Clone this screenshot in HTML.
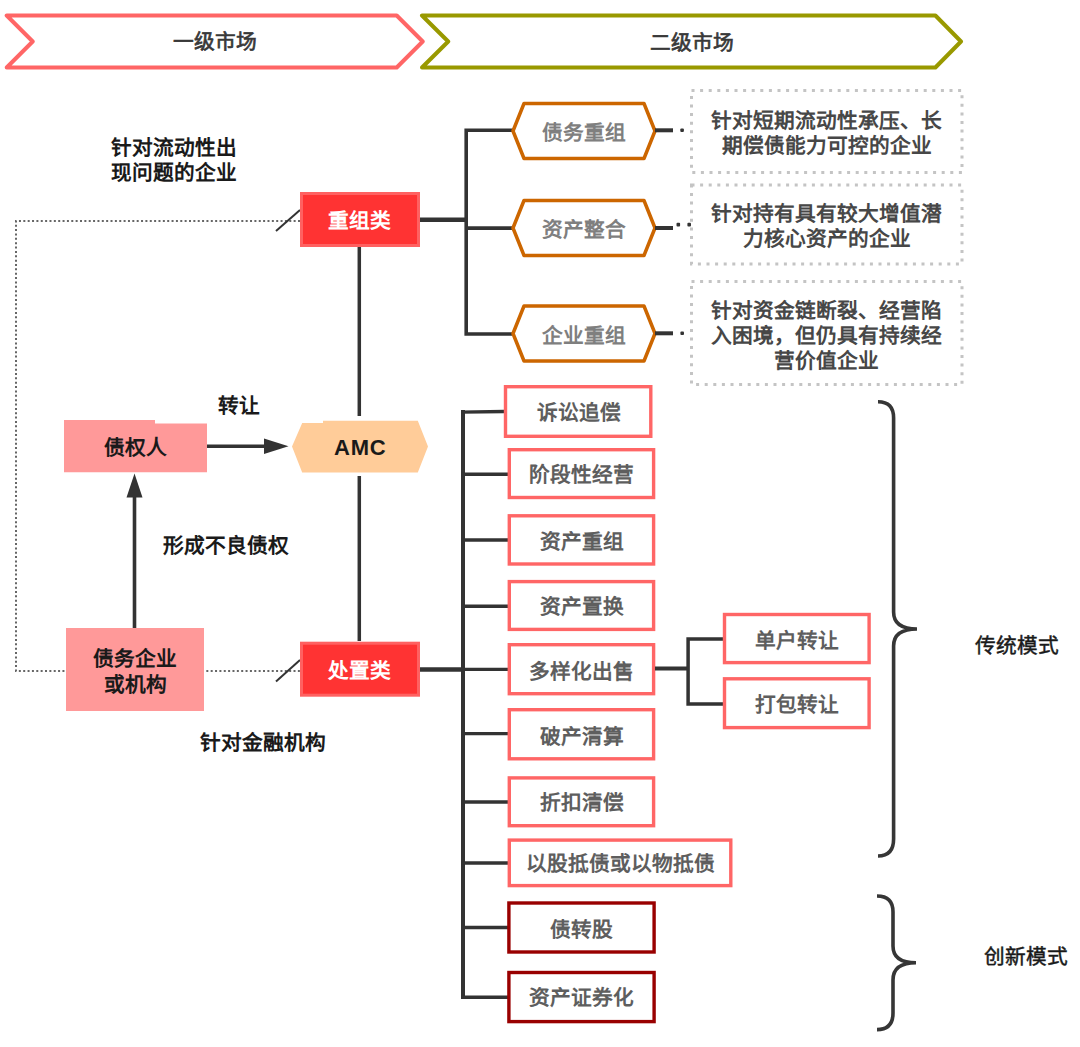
<!DOCTYPE html>
<html lang="zh-CN">
<head>
<meta charset="utf-8">
<style>
html,body{margin:0;padding:0;background:#fff;}
body{width:1080px;height:1047px;position:relative;overflow:hidden;font-family:"Liberation Sans",sans-serif;}
svg{position:absolute;left:0;top:0;}
.t{position:absolute;transform:translate(-50%,-50%);white-space:nowrap;font-weight:700;font-size:20.7px;line-height:26px;text-align:center;margin-top:1px;}
.m{font-weight:400;-webkit-text-stroke:0.45px currentColor;}
.k{color:#1a1a1a;}
.g{color:#5e5e5e;}
.h{color:#7f7f7f;}
.d{color:#474747;}
.w{color:#fff;}
</style>
</head>
<body>
<svg width="1080" height="1047" viewBox="0 0 1080 1047">
  <!-- banners -->
  <polygon points="6.7,15.5 396.7,15.5 422.7,41.5 396.7,67.5 6.7,67.5 32.7,41.5" fill="none" stroke="#FF6666" stroke-width="4" stroke-linejoin="round"/>
  <polygon points="422,15.5 935.4,15.5 961,41.5 935.4,67.5 422,67.5 448.2,41.5" fill="none" stroke="#999900" stroke-width="4" stroke-linejoin="round"/>

  <!-- dotted left loop -->
  <polyline points="300,221 16,221 16,671 300,671" fill="none" stroke="#666" stroke-width="2" stroke-dasharray="2 2.36"/>
  <line x1="276" y1="231" x2="300" y2="210" stroke="#333" stroke-width="2"/>
  <line x1="276" y1="681.5" x2="300" y2="660" stroke="#333" stroke-width="2"/>

  <!-- AMC vertical -->
  <line x1="359.3" y1="247" x2="359.3" y2="416" stroke="#333" stroke-width="3.5"/>
  <line x1="359.3" y1="476" x2="359.3" y2="641" stroke="#333" stroke-width="3.5"/>

  <!-- top tree -->
  <line x1="420" y1="219.7" x2="467" y2="219.7" stroke="#333" stroke-width="4.5"/>
  <polyline points="513,130.3 466.2,130.3 466.2,334 513,334" fill="none" stroke="#333" stroke-width="3.6"/>
  <line x1="466" y1="228.1" x2="513" y2="228.1" stroke="#333" stroke-width="3.6"/>

  <g fill="#fff" stroke="#CC6600" stroke-width="3.5" stroke-linejoin="round">
    <polygon points="513,131 524,103.5 644,103.5 655,131 644,158.5 524,158.5"/>
    <polygon points="513,228 524,200.5 644,200.5 655,228 644,255.5 524,255.5"/>
    <polygon points="513,333.5 524,306 644,306 655,333.5 644,361 524,361"/>
  </g>
  <g stroke="#333" stroke-width="4">
    <line x1="655" y1="130.3" x2="673" y2="130.3"/>
    <line x1="655" y1="228" x2="673" y2="228"/>
    <line x1="655" y1="333.3" x2="673" y2="333.3"/>
  </g>
  <g fill="#333">
    <rect x="680.3" y="128.5" width="3.6" height="3.6" rx="1"/>
    <rect x="676.5" y="222.8" width="3.6" height="3.6" rx="1"/>
    <rect x="687.4" y="222.8" width="3.6" height="3.6" rx="1"/>
    <rect x="680.4" y="331.5" width="3.6" height="3.6" rx="1"/>
  </g>

  <!-- dotted boxes -->
  <g fill="none" stroke="#c4c4c4" stroke-width="3" stroke-dasharray="3 5.6">
    <rect x="691.5" y="90.5" width="270.5" height="82"/>
    <rect x="691.5" y="185" width="270.5" height="79"/>
    <rect x="691.5" y="281.5" width="270.5" height="103"/>
  </g>

  <!-- red category boxes -->
  <rect x="301.5" y="193.5" width="117" height="52" fill="#FF3333" stroke="#FF6161" stroke-width="3"/>
  <rect x="301.5" y="643.2" width="117" height="52" fill="#FF3333" stroke="#FF6161" stroke-width="3"/>

  <!-- creditor boxes -->
  <path d="M64,420 H155 V423.4 H207 V472.2 H64 Z" fill="#FF9999"/>
  <rect x="66" y="628" width="138" height="83" fill="#FF9999"/>

  <!-- arrows -->
  <line x1="207" y1="446.2" x2="266" y2="446.2" stroke="#333" stroke-width="3.6"/>
  <polygon points="264,438.4 288.5,446.2 264,454" fill="#333"/>
  <line x1="134.5" y1="628" x2="134.5" y2="495" stroke="#333" stroke-width="3.6"/>
  <polygon points="126.5,497.5 134.5,473.5 142.5,497.5" fill="#333"/>

  <!-- AMC -->
  <path d="M292,446.5 L302.2,423 H323 V420.7 H417.8 L428,446.5 L417.8,472.5 H302.2 Z" fill="#FFCC99"/>

  <!-- bottom tree -->
  <line x1="420" y1="669.4" x2="464" y2="669.4" stroke="#333" stroke-width="4.5"/>
  <line x1="463" y1="410" x2="463" y2="999" stroke="#333" stroke-width="4"/>
  <g stroke="#333" stroke-width="3.4">
    <line x1="461.5" y1="412.1" x2="504" y2="411.5"/>
    <line x1="463" y1="474.2" x2="508" y2="474.2"/>
    <line x1="463" y1="540" x2="508" y2="540"/>
    <line x1="463" y1="606.3" x2="508" y2="606.3"/>
    <line x1="463" y1="669.4" x2="508" y2="669.4"/>
    <line x1="463" y1="733.6" x2="508" y2="733.6"/>
    <line x1="463" y1="802" x2="508" y2="802"/>
    <line x1="463" y1="863" x2="508" y2="863"/>
    <line x1="463" y1="927.5" x2="508" y2="927.5"/>
    <line x1="461.5" y1="997.2" x2="508" y2="997.2"/>
  </g>
  <g fill="#fff" stroke="#FF6666" stroke-width="3.4">
    <rect x="505.50" y="386.70" width="145.30" height="49.60"/>
    <rect x="509.30" y="449.70" width="144.30" height="47.80"/>
    <rect x="509.30" y="515.80" width="144.30" height="48.20"/>
    <rect x="509.30" y="581.60" width="144.30" height="47.80"/>
    <rect x="509.30" y="644.70" width="144.30" height="49.00"/>
    <rect x="509.30" y="709.70" width="144.30" height="49.10"/>
    <rect x="509.30" y="777.90" width="144.30" height="47.80"/>
    <rect x="509.30" y="840.10" width="221.50" height="45.50"/>
  </g>
  <g fill="#fff" stroke="#990000" stroke-width="3.4">
    <rect x="508.90" y="903.00" width="145.20" height="49.00"/>
    <rect x="508.90" y="972.50" width="145.20" height="49.10"/>
  </g>

  <!-- sub tree -->
  <line x1="655" y1="668.6" x2="689" y2="668.6" stroke="#333" stroke-width="4"/>
  <polyline points="723.5,639 688.1,639 688.1,703.9 723.5,703.9" fill="none" stroke="#333" stroke-width="3.5"/>
  <g fill="#fff" stroke="#FF6666" stroke-width="3.4">
    <rect x="724.50" y="614.50" width="144.60" height="48.10"/>
    <rect x="724.50" y="678.80" width="144.60" height="48.80"/>
  </g>

  <!-- braces -->
  <g fill="none" stroke="#363636" stroke-width="3.6" stroke-linecap="butt">
    <path d="M878,401.8 Q893.6,401.8 893.6,418 V612 Q893.6,629 917,629 Q893.6,629 893.6,646 V839 Q893.6,856 878,856"/>
    <path d="M877,896 Q893,896 893,912 V946 Q893,962.8 916,962.8 Q893,962.8 893,980 V1013 Q893,1029.6 877,1029.6"/>
  </g>
</svg>

<!-- banner text -->
<div class="t m" style="left:215px;top:40.7px;color:#383838;-webkit-text-stroke:0.7px #383838;">一级市场</div>
<div class="t m" style="left:691.5px;top:41.5px;color:#383838;-webkit-text-stroke:0.7px #383838;">二级市场</div>

<div class="t k" style="left:173.5px;top:159px;line-height:25.2px;">针对流动性出<br>现问题的企业</div>

<div class="t w" style="left:359.3px;top:219.8px;">重组类</div>
<div class="t w" style="left:359.4px;top:669.5px;">处置类</div>

<div class="t h" style="left:584px;top:132px;">债务重组</div>
<div class="t h" style="left:584px;top:229px;">资产整合</div>
<div class="t h" style="left:584px;top:334.5px;">企业重组</div>

<div class="t d" style="left:826.8px;top:131.5px;line-height:25px;">针对短期流动性承压、长<br>期偿债能力可控的企业</div>
<div class="t d" style="left:826.8px;top:225px;line-height:25px;">针对持有具有较大增值潜<br>力核心资产的企业</div>
<div class="t d" style="left:826.8px;top:334.5px;line-height:25.3px;">针对资金链断裂、经营陷<br>入困境，但仍具有持续经<br>营价值企业</div>

<div class="t k" style="left:238.5px;top:404.7px;">转让</div>
<div class="t k" style="left:135px;top:447px;">债权人</div>
<div class="t k" style="left:359.8px;top:446.5px;font-family:'Liberation Sans',sans-serif;font-size:22px;letter-spacing:0.7px;text-indent:0.7px;">AMC</div>
<div class="t k" style="left:226px;top:545px;">形成不良债权</div>
<div class="t k" style="left:135px;top:670.5px;">债务企业<br>或机构</div>
<div class="t k" style="left:263px;top:742px;">针对金融机构</div>

<div class="t g" style="left:579.2px;top:411.5px;">诉讼追偿</div>
<div class="t g" style="left:581.5px;top:474.4px;">阶段性经营</div>
<div class="t g" style="left:581.5px;top:541px;">资产重组</div>
<div class="t g" style="left:581.5px;top:605.8px;">资产置换</div>
<div class="t g" style="left:581.5px;top:670.8px;">多样化出售</div>
<div class="t g" style="left:581.5px;top:735.5px;">破产清算</div>
<div class="t g" style="left:581.5px;top:802.4px;">折扣清偿</div>
<div class="t g" style="left:620px;top:862.9px;">以股抵债或以物抵债</div>
<div class="t g" style="left:581.5px;top:928.7px;">债转股</div>
<div class="t g" style="left:581.5px;top:997.4px;">资产证券化</div>

<div class="t g" style="left:797px;top:640.1px;">单户转让</div>
<div class="t g" style="left:797px;top:703.6px;">打包转让</div>

<div class="t k m" style="left:1016.5px;top:644.8px;">传统模式</div>
<div class="t k m" style="left:1026px;top:956px;">创新模式</div>
</body>
</html>
